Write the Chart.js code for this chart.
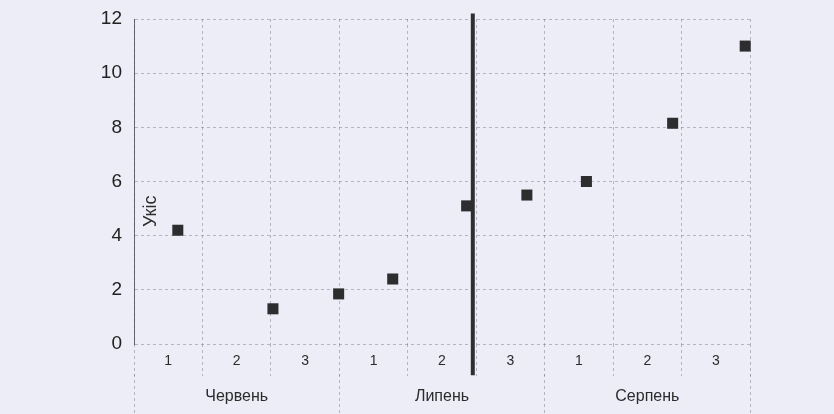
<!DOCTYPE html>
<html>
<head>
  <title>Укіс</title>
  <script src="https://cdn.jsdelivr.net/npm/chart.js"></script>
  <style>
    body { margin: 0; background: #ecedf6; overflow: hidden; }
    canvas { display: block; }
  </style>
</head>
<body>
  <canvas id="myChart" width="834" height="414"></canvas>
  <script>
    // decade labels inside each month, and the months
    var decadeLabels = ['1', '2', '3', '1', '2', '3', '1', '2', '3'];
    var monthLabels = ['Червень', 'Липень', 'Серпень'];
    // position along the season (in decades) and yield
    var pointX = [0.64, 2.03, 2.99, 3.78, 4.86, 5.74, 6.61, 7.87, 8.93];
    var pointY = [4.2, 1.3, 1.85, 2.4, 5.1, 5.5, 6.0, 8.15, 11.0];
    // thick divider
    var dividerX = 4.95;
    var dividerY = [-1.15, 12.2];
    var yTicks = [0, 2, 4, 6, 8, 10, 12];

    var grey = 'rgba(105,105,118,0.42)';
    var font = "'Liberation Sans', Arial, sans-serif";

    var scatter = pointX.map((x, i) => ({ x: x, y: pointY[i] }));
    var divider = dividerY.map(y => ({ x: dividerX, y: y }));

    var cellTicks = [];
    for (var i = 0; i <= decadeLabels.length * 2; i++) cellTicks.push(i / 2);
    var monthTicks = [];
    for (var j = 0; j <= monthLabels.length * 2; j++) monthTicks.push(j * 1.5);

    var isWhole = v => Math.abs(v - Math.round(v)) < 1e-6;

    var yTitle = {
      id: 'yTitle',
      afterDraw(chart) {
        var c = chart.ctx, s = chart.scales.y;
        c.save();
        c.translate(s.right + 17, s.getPixelForValue(4.9));
        c.rotate(-Math.PI / 2);
        c.font = '18px ' + font;
        c.fillStyle = '#2b2b2b';
        c.textAlign = 'center';
        c.textBaseline = 'middle';
        c.fillText('Укіс', 0, 0);
        c.restore();
      }
    };

    var ctx = document.getElementById('myChart').getContext('2d');
    new Chart(ctx, {
      type: 'scatter',
      data: {
        datasets: [
          {
            data: scatter,
            pointStyle: 'rect',
            pointRadius: 7.8,
            pointHoverRadius: 7.8,
            backgroundColor: '#2d2d2f',
            borderColor: '#2d2d2f',
            borderWidth: 0,
            clip: false
          },
          {
            type: 'line',
            data: divider,
            showLine: true,
            borderColor: '#2f2f33',
            borderWidth: 4,
            pointRadius: 0,
            clip: false
          }
        ]
      },
      options: {
        responsive: false,
        animation: false,
        layout: { autoPadding: false, padding: { top: 19, right: 84, left: 90, bottom: 0 } },
        plugins: { legend: { display: false }, tooltip: { enabled: false } },
        scales: {
          x: {
            type: 'linear',
            min: 0,
            max: 9,
            afterBuildTicks: axis => { axis.ticks = cellTicks.map(v => ({ value: v })); },
            afterFit: axis => { axis.height = 30; },
            ticks: {
              autoSkip: false,
              maxRotation: 0,
              padding: -23,
              color: '#2b2b2b',
              font: { family: font, size: 14 },
              callback: v => isWhole(v) ? '' : decadeLabels[Math.floor(v)]
            },
            grid: {
              color: c => isWhole(c.tick.value) ? grey : 'transparent',
              tickColor: c => isWhole(c.tick.value) ? grey : 'transparent',
              lineWidth: 1,
              tickLength: 32,
              tickBorderDash: [3, 3]
            },
            border: { display: false, dash: [3, 3] }
          },
          xm: {
            type: 'linear',
            position: 'bottom',
            min: 0,
            max: 9,
            afterBuildTicks: axis => { axis.ticks = monthTicks.map(v => ({ value: v })); },
            afterFit: axis => { axis.height = 40; },
            ticks: {
              autoSkip: false,
              maxRotation: 0,
              padding: -31,
              color: '#2b2b2b',
              font: { family: font, size: 16 },
              callback: v => isWhole(v / 3) ? '' : monthLabels[Math.floor(v / 3)]
            },
            grid: {
              drawOnChartArea: false,
              tickColor: c => isWhole(c.tick.value / 3) ? grey : 'transparent',
              tickLength: 44,
              tickBorderDash: [3, 3]
            },
            border: { display: false }
          },
          y: {
            min: 0,
            max: 12,
            afterBuildTicks: axis => { axis.ticks = yTicks.map(v => ({ value: v })); },
            afterFit: axis => { axis.width = 44; axis.paddingTop = 0; axis.paddingBottom = 0; },
            ticks: {
              padding: 12,
              color: '#222',
              font: { family: font, size: 19 }
            },
            grid: {
              color: grey,
              drawTicks: false
            },
            border: { display: true, color: 'rgba(60,60,70,0.75)', width: 1, dash: [3, 3] }
          }
        }
      },
      plugins: [yTitle]
    });
  </script>
</body>
</html>
